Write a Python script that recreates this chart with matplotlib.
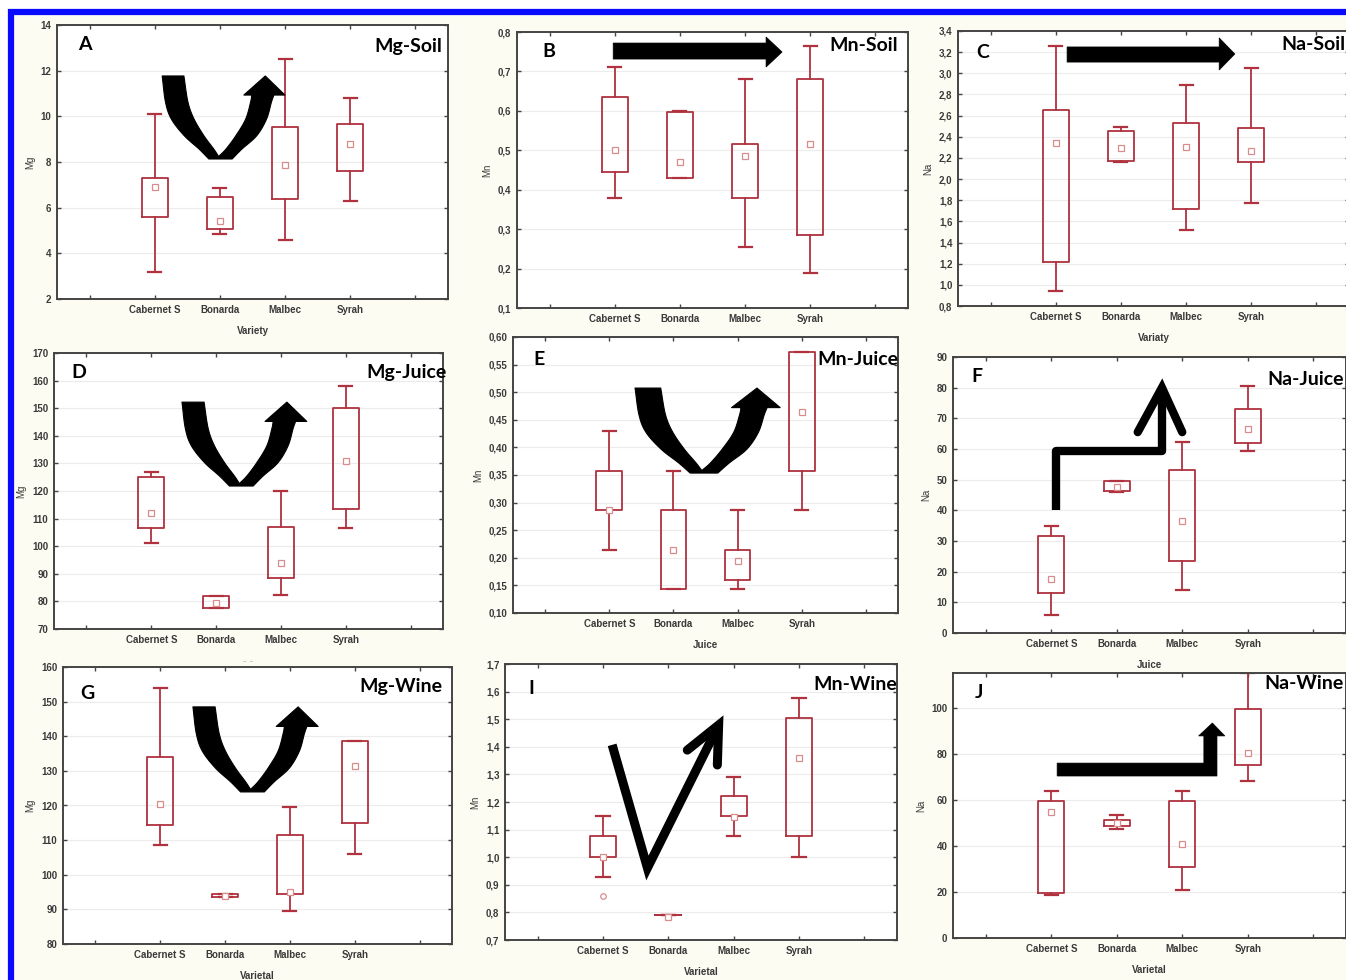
import matplotlib
matplotlib.use('Agg')
import matplotlib.pyplot as plt
from matplotlib.patches import Polygon, Rectangle
from matplotlib.ticker import FuncFormatter, MultipleLocator
import numpy as np

# data
categories = ['Cabernet S', 'Bonarda', 'Malbec', 'Syrah']

A_lo = [3.2, 4.85, 4.6, 6.3]
A_q1 = [5.6, 5.05, 6.4, 7.6]
A_q3 = [7.3, 6.45, 9.55, 9.65]
A_hi = [10.1, 6.85, 12.5, 10.8]
A_med = [6.9, 5.4, 7.85, 8.8]

B_lo = [0.38, 0.43, 0.255, 0.19]
B_q1 = [0.445, 0.43, 0.38, 0.285]
B_q3 = [0.635, 0.597, 0.515, 0.68]
B_hi = [0.71, 0.60, 0.68, 0.765]
B_med = [0.50, 0.47, 0.485, 0.515]

C_lo = [0.94, 2.16, 1.52, 1.77]
C_q1 = [1.22, 2.17, 1.72, 2.16]
C_q3 = [2.65, 2.45, 2.53, 2.48]
C_hi = [3.26, 2.49, 2.89, 3.05]
C_med = [2.34, 2.29, 2.30, 2.27]

D_lo = [101, 77.5, 82.5, 106.5]
D_q1 = [106.5, 77.5, 88.5, 113.5]
D_q3 = [125, 82, 107, 150]
D_hi = [127, 82, 120, 158]
D_med = [112, 79.5, 94, 131]

E_lo = [0.215, 0.143, 0.143, 0.287]
E_q1 = [0.287, 0.143, 0.16, 0.358]
E_q3 = [0.358, 0.287, 0.215, 0.573]
E_hi = [0.43, 0.358, 0.287, 0.573]
E_med = [0.287, 0.215, 0.195, 0.465]

F_lo = [6, 46, 14, 59.5]
F_q1 = [13, 46.3, 23.5, 62]
F_q3 = [31.5, 49.5, 53, 73]
F_hi = [35, 49.5, 62.3, 80.5]
F_med = [17.5, 47.5, 36.5, 66.5]

G_lo = [108.5, 93.5, 89.5, 106]
G_q1 = [114.5, 93.5, 94.5, 115]
G_q3 = [134, 94.5, 111.5, 138.5]
G_hi = [154, 94.5, 119.5, 138.5]
G_med = [120.5, 94, 95, 131.5]

I_lo = [0.93, 0.79, 1.075, 1.0]
I_q1 = [1.0, 0.79, 1.15, 1.075]
I_q3 = [1.075, 0.79, 1.22, 1.505]
I_hi = [1.15, 0.79, 1.29, 1.575]
I_med = [1.0, 0.785, 1.145, 1.36]
I_out = [[0.86], [], [], []]

J_lo = [18.5, 47.5, 21, 68]
J_q1 = [19.5, 48.5, 31, 75]
J_q3 = [59.5, 51, 59.5, 99.5]
J_hi = [64, 53.5, 64, 115]
J_med = [54.5, 50, 41, 80.5]

W, H = 1346, 980
BOXC = '#b0323f'
MARKC = '#d98c8c'
TXT = '#3a3a3a'
TICKFONT = 'Liberation Sans'

# edges of the curved "U" arrow, in a unit box (u right, v up)
U_OUT_L = [(0, 1), (0.027, 0.685), (0.075, 0.48), (0.18, 0.28), (0.30, 0.12), (0.38, 0.0)]
U_OUT_R = [(0.57, 0.0), (0.65, 0.12), (0.77, 0.28), (0.85, 0.48), (0.89, 0.685), (0.91, 0.77)]
U_HEAD = [(1.0, 0.77), (0.84, 1.0), (0.665, 0.77)]
U_IN_R = [(0.73, 0.77), (0.72, 0.685), (0.68, 0.48), (0.60, 0.28), (0.52, 0.12), (0.46, 0.03)]
U_IN_L = [(0.46, 0.03), (0.42, 0.12), (0.34, 0.28), (0.26, 0.48), (0.21, 0.685), (0.177, 1)]

fig = plt.figure(figsize=(W / 100, H / 100), dpi=100, facecolor='white')
# cream page with blue frame
fig.patches.append(Rectangle((10.5 / W, -0.05), 1.1, 1 - 12.5 / H + 0.05,
                             transform=fig.transFigure, facecolor='#fdfcf3',
                             edgecolor='#0a0aff', linewidth=4.5, zorder=-10))


def px_axes(l, r, t, b):
    return fig.add_axes([l / W, 1 - b / H, (r - l) / W, (b - t) / H])


def comma_fmt(dec):
    def f(v, pos):
        if dec == 0:
            return '%d' % round(v)
        return ('%.*f' % (dec, v)).replace('.', ',')
    return FuncFormatter(f)


def smooth(pts, n=8):
    # catmull-rom through the given outline points
    p = np.array(pts, float)
    ext = np.vstack([2 * p[0] - p[1], p, 2 * p[-1] - p[-2]])
    res = []
    for i in range(1, len(ext) - 2):
        p0, p1, p2, p3 = ext[i - 1:i + 3]
        for t in np.linspace(0, 1, n, endpoint=False):
            res.append(0.5 * (2 * p1 + (p2 - p0) * t
                              + (2 * p0 - 5 * p1 + 4 * p2 - p3) * t ** 2
                              + (3 * p1 - p0 - 3 * p2 + p3) * t ** 3))
    res.append(p[-1])
    return [tuple(r) for r in res]


def panel(ax, lo, q1, q3, hi, med, ylim, step, dec, ylab, xlab, out=None):
    stats = []
    for i in range(4):
        stats.append(dict(whislo=lo[i], q1=q1[i], med=med[i], q3=q3[i],
                          whishi=hi[i], mean=med[i],
                          fliers=(out[i] if out else [])))
    ax.bxp(stats, positions=[2, 3, 4, 5], widths=0.4, capwidths=0.2,
           showmeans=True, showfliers=True, manage_ticks=False,
           boxprops=dict(color=BOXC, linewidth=1.3),
           whiskerprops=dict(color=BOXC, linewidth=1.3),
           capprops=dict(color=BOXC, linewidth=1.6),
           medianprops=dict(linewidth=0),
           meanprops=dict(marker='s', markersize=4, markerfacecolor='white',
                          markeredgecolor=MARKC, markeredgewidth=0.9),
           flierprops=dict(marker='o', markersize=4, markerfacecolor='white',
                           markeredgecolor=MARKC, markeredgewidth=0.9))
    ax.set_xlim(0.5, 6.5)
    ax.set_ylim(*ylim)
    ax.set_xticks([1, 2, 3, 4, 5, 6])
    ax.set_xticklabels([''] + categories + [''])
    ax.yaxis.set_major_locator(MultipleLocator(step))
    ax.yaxis.set_major_formatter(comma_fmt(dec))
    ax.tick_params(direction='in', length=3, width=1, top=True, right=True,
                   labelsize=7, labelcolor=TXT, color='#444444', pad=4)
    for lab in ax.get_xticklabels() + ax.get_yticklabels():
        lab.set_fontweight('bold')
        lab.set_family(TICKFONT)
    ax.grid(axis='y', color='#ececec', linewidth=0.8)
    ax.set_axisbelow(True)
    for s in ax.spines.values():
        s.set_color('#444444')
        s.set_linewidth(1.4)
    ax.set_facecolor('white')
    ax.set_ylabel(ylab, fontsize=7, color=TXT, labelpad=4, family=TICKFONT)
    if xlab:
        ax.set_xlabel(xlab, fontsize=7, color=TXT, labelpad=8,
                      fontweight='bold', family=TICKFONT)


def tags(ax, letter, lx, ly, title, tx, ty):
    ax.text(lx, ly, letter, transform=ax.transAxes, fontsize=14, fontweight='bold',
            family='Lato', ha='center', va='center', zorder=6)
    ax.text(tx, ty, title, transform=ax.transAxes, fontsize=14, fontweight='bold',
            family='Lato', ha='right', va='center', zorder=6)


def u_arrow(ax, x0, x1, y0, y1):
    outline = (smooth(U_OUT_L) + smooth(U_OUT_R) + U_HEAD
               + smooth(U_IN_R) + smooth(U_IN_L))
    pts = [(x0 + u * (x1 - x0), y0 + v * (y1 - y0)) for u, v in outline]
    ax.add_patch(Polygon(pts, closed=True, transform=ax.transAxes,
                         facecolor='black', edgecolor='black', lw=0.8,
                         joinstyle='round', zorder=5))


def block_arrow(ax, x0, xb, xt, ys0, ys1, yh0, yh1):
    pts = [(x0, ys0), (xb, ys0), (xb, yh0), (xt, (yh0 + yh1) / 2),
           (xb, yh1), (xb, ys1), (x0, ys1)]
    ax.add_patch(Polygon(pts, closed=True, transform=ax.transAxes,
                         facecolor='black', edgecolor='black', lw=0.5, zorder=5))


# row 1
axA = px_axes(57, 448, 25, 299)
panel(axA, A_lo, A_q1, A_q3, A_hi, A_med, (2, 14), 2, 0, 'Mg', 'Variety')
tags(axA, 'A', 0.072, 0.93, 'Mg-Soil', 0.985, 0.92)
u_arrow(axA, 0.269, 0.583, 0.511, 0.814)

axB = px_axes(517, 908, 32, 308)
panel(axB, B_lo, B_q1, B_q3, B_hi, B_med, (0.1, 0.8), 0.1, 1, 'Mn', None)
tags(axB, 'B', 0.082, 0.93, 'Mn-Soil', 0.975, 0.95)
block_arrow(axB, 0.246, 0.637, 0.678, 0.902, 0.960, 0.873, 0.982)

axC = px_axes(958, 1349, 31, 306)
panel(axC, C_lo, C_q1, C_q3, C_hi, C_med, (0.8, 3.4), 0.2, 1, 'Na', 'Variaty')
tags(axC, 'C', 0.064, 0.92, 'Na-Soil', 0.99, 0.95)
block_arrow(axC, 0.279, 0.668, 0.708, 0.887, 0.942, 0.858, 0.975)

# row 2
axD = px_axes(54, 443, 353, 629)
panel(axD, D_lo, D_q1, D_q3, D_hi, D_med, (70, 170), 10, 0, 'Mg', None)
axD.set_xlabel('- -', fontsize=7, color='#bbbbbb', labelpad=8)
tags(axD, 'D', 0.064, 0.93, 'Mg-Juice', 1.01, 0.93)
u_arrow(axD, 0.329, 0.650, 0.518, 0.822)

axE = px_axes(513, 898, 337, 613)
panel(axE, E_lo, E_q1, E_q3, E_hi, E_med, (0.1, 0.6), 0.05, 2, 'Mn', 'Juice')
tags(axE, 'E', 0.068, 0.917, 'Mn-Juice', 1.0, 0.92)
u_arrow(axE, 0.317, 0.694, 0.507, 0.815)

axF = px_axes(953, 1346, 357, 633)
panel(axF, F_lo, F_q1, F_q3, F_hi, F_med, (0, 90), 10, 0, 'Na', 'Juice')
tags(axF, 'F', 0.061, 0.928, 'Na-Juice', 0.995, 0.92)
axF.plot([2.08, 2.08, 3.69, 3.69], [40, 59.3, 59.3, 79.5], color='black',
         lw=6, solid_capstyle='butt', solid_joinstyle='round', zorder=5)
axF.plot([3.32, 3.69, 4.0], [65.5, 80, 65.5], color='black', lw=6,
         solid_capstyle='round', solid_joinstyle='miter', zorder=5)

# row 3
axG = px_axes(63, 452, 667, 944)
panel(axG, G_lo, G_q1, G_q3, G_hi, G_med, (80, 160), 10, 0, 'Mg', 'Varietal')
tags(axG, 'G', 0.062, 0.906, 'Mg-Wine', 0.975, 0.928)
u_arrow(axG, 0.334, 0.656, 0.549, 0.856)

axI = px_axes(505, 897, 664, 940)
panel(axI, I_lo, I_q1, I_q3, I_hi, I_med, (0.7, 1.7), 0.1, 1, 'Mn', 'Varietal', out=I_out)
tags(axI, 'I', 0.066, 0.913, 'Mn-Wine', 1.0, 0.924)
axI.plot([2.14, 2.68, 3.77], [1.407, 0.961, 1.479], color='black', lw=6.5,
         solid_capstyle='butt', solid_joinstyle='miter', zorder=5)
axI.plot([3.29, 3.77, 3.75], [1.388, 1.479, 1.334], color='black', lw=6.5,
         solid_capstyle='round', solid_joinstyle='miter', zorder=5)

axJ = px_axes(953, 1346, 673, 938)
panel(axJ, J_lo, J_q1, J_q3, J_hi, J_med, (0, 115), 20, 0, 'Na', 'Varietal')
tags(axJ, 'J', 0.066, 0.928, 'Na-Wine', 0.995, 0.962)
axJ.add_patch(Polygon([(2.09, 70.3), (4.53, 70.3), (4.53, 87.7), (4.65, 87.7),
                       (4.46, 93.3), (4.25, 87.7), (4.33, 87.7), (4.33, 75.9),
                       (2.09, 75.9)], closed=True, facecolor='black',
                      edgecolor='black', lw=0.5, zorder=5))

fig.savefig('out.png', dpi=100)
